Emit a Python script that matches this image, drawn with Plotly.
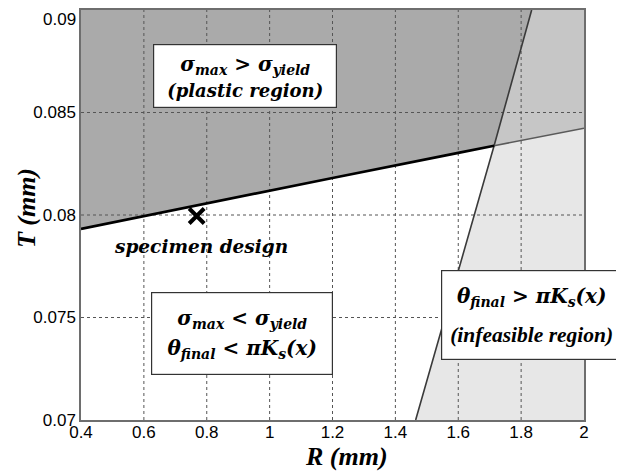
import plotly.graph_objects as go

# ---------------- data ----------------
x_range = [0.4, 2.0]
y_range = [0.07, 0.09]
x_ticks = [0.4, 0.6, 0.8, 1.0, 1.2, 1.4, 1.6, 1.8, 2.0]
x_ticklabels = ["0.4", "0.6", "0.8", "1", "1.2", "1.4", "1.6", "1.8", "2"]
y_ticks = [0.07, 0.075, 0.08, 0.085, 0.09]
y_ticklabels = ["0.07", "0.075", "0.08", "0.085", "0.09"]

# yield boundary (sigma_max = sigma_yield); index 4 is the intersection
R_yield = [0.4, 0.8, 1.2, 1.6, 1.714, 2.0]
T_yield = [0.07932, 0.08057, 0.08181, 0.08303, 0.08338, 0.08423]
i_cross = 4

# twist boundary (theta_final = pi*Ks(x))
R_twist = [1.4645, 1.714, 1.8335]
T_twist = [0.07, 0.08338, 0.09]

# specimen design point
R_design = [0.768]
T_design = [0.07995]

# ---------------- figure ----------------
math_font = "DejaVu Serif"
times = "Liberation Serif"
sans = "Liberation Sans"
fig = go.Figure()

# plastic region (above yield line, left of twist line)
px = R_yield[: i_cross + 1] + R_twist[2:] + [x_range[0]]
py = T_yield[: i_cross + 1] + T_twist[2:] + [y_range[1]]
fig.add_trace(go.Scatter(x=px, y=py, fill="toself", mode="none",
                         fillcolor="#aaaaaa", hoverinfo="skip", showlegend=False))
# overlap region (above yield line, right of twist line)
ox = R_yield[i_cross:] + [x_range[1], R_twist[-1]]
oy = T_yield[i_cross:] + [y_range[1], y_range[1]]
fig.add_trace(go.Scatter(x=ox, y=oy, fill="toself", mode="none",
                         fillcolor="#c6c6c6", hoverinfo="skip", showlegend=False))
# infeasible region (below yield line, right of twist line)
ix = R_twist[:2] + R_yield[i_cross + 1:] + [x_range[1]]
iy = T_twist[:2] + T_yield[i_cross + 1:] + [y_range[0]]
fig.add_trace(go.Scatter(x=ix, y=iy, fill="toself", mode="none",
                         fillcolor="#e7e7e7", hoverinfo="skip", showlegend=False))

# dotted grid lines on top of the fills
for xv in x_ticks[1:-1]:
    fig.add_trace(go.Scatter(x=[xv, xv], y=y_range, mode="lines",
                             line=dict(color="#555555", width=1, dash="dot"),
                             hoverinfo="skip", showlegend=False))
for yv in y_ticks[1:-1]:
    fig.add_trace(go.Scatter(x=x_range, y=[yv, yv], mode="lines",
                             line=dict(color="#555555", width=1, dash="dot"),
                             hoverinfo="skip", showlegend=False))

# boundary lines
fig.add_trace(go.Scatter(x=R_yield[i_cross:], y=T_yield[i_cross:], mode="lines",
                         line=dict(color="#5a5a5a", width=1.6),
                         hoverinfo="skip", showlegend=False))
fig.add_trace(go.Scatter(x=R_twist, y=T_twist, mode="lines",
                         line=dict(color="#3a3a3a", width=1.6),
                         hoverinfo="skip", showlegend=False))
fig.add_trace(go.Scatter(x=R_yield[: i_cross + 1], y=T_yield[: i_cross + 1], mode="lines",
                         line=dict(color="black", width=2.6),
                         hoverinfo="skip", showlegend=False))

# design point
fig.add_trace(go.Scatter(x=R_design, y=T_design, mode="markers",
                         marker=dict(symbol="x-thin", size=15,
                                     line=dict(color="black", width=4)),
                         showlegend=False))


def math(s):
    return "<span style='font-size:20px'><b><i>" + s + "</i></b></span>"


def plain(s, family=math_font, size=18):
    return ("<span style='font-family:" + family + ";font-size:" + str(size)
            + "px'><b><i>" + s + "</i></b></span>")


box_style = dict(showarrow=False, bgcolor="white", bordercolor="#333333",
                 borderwidth=1.2, borderpad=2, align="center", xref="x", yref="y")
fig.add_annotation(x=0.923, y=0.08678,
                   text=math("σ<sub>max</sub> > σ<sub>yield</sub>") + "<br>" + plain("(plastic region)"),
                   font=dict(family=math_font, size=20, color="black"),
                   width=178, height=58, **box_style)
fig.add_annotation(x=0.9137, y=0.07424,
                   text=math("σ<sub>max</sub> < σ<sub>yield</sub>") + "<br>" + math("θ<sub>final</sub> < πK<sub>s</sub>(x)"),
                   font=dict(family=math_font, size=23, color="black"),
                   width=176, height=77, **box_style)
fig.add_annotation(x=1.8345, y=0.0751,
                   text=math("θ<sub>final</sub> > πK<sub>s</sub>(x)") + "<br>" + plain("(infeasible region)", times, 21.5),
                   font=dict(family=math_font, size=30, color="black"),
                   width=175, height=84, **box_style)
fig.add_annotation(x=0.783, y=0.07844, xref="x", yref="y",
                   text="<b><i>specimen design</i></b>",
                   showarrow=False, font=dict(family=math_font, size=18.5, color="black"))

# axis titles
fig.add_annotation(x=0.528, y=-0.088, xref="paper", yref="paper",
                   text="<b><i>R (mm)</i></b>", showarrow=False,
                   xanchor="center", yanchor="middle",
                   font=dict(family=times, size=26, color="black"))
fig.add_annotation(x=-0.108, y=0.516, xref="paper", yref="paper",
                   text="<b><i>T (mm)</i></b>", showarrow=False, textangle=-90,
                   xanchor="center", yanchor="middle",
                   font=dict(family=times, size=26, color="black"))

# top y tick label, nudged so that the page edge does not clip it
fig.add_annotation(x=0, y=y_ticks[-1], xref="paper", yref="y",
                   text=y_ticklabels[-1], showarrow=False,
                   xanchor="right", yanchor="top", xshift=-3, yshift=2,
                   font=dict(family=sans, size=17, color="black"))

axis_common = dict(showgrid=False, zeroline=False, showline=True, mirror=True,
                   linecolor="#6e6e6e", linewidth=1.5, ticks="", automargin=False,
                   ticklabeloverflow="allow",
                   tickfont=dict(family=sans, size=17, color="black"))
fig.update_xaxes(range=x_range, tickvals=x_ticks, ticktext=x_ticklabels,
                 ticklabelstandoff=-4, **axis_common)
fig.update_yaxes(range=y_range, tickvals=y_ticks, ticktext=y_ticklabels[:-1] + [""],
                 **axis_common)

# the page body adds an 8 px offset, so the figure is 8 px smaller than the window
fig.update_layout(width=616, height=466,
                  margin=dict(l=73, r=40, t=2, b=54),
                  plot_bgcolor="white", paper_bgcolor="white")

fig.write_html("out.html")
